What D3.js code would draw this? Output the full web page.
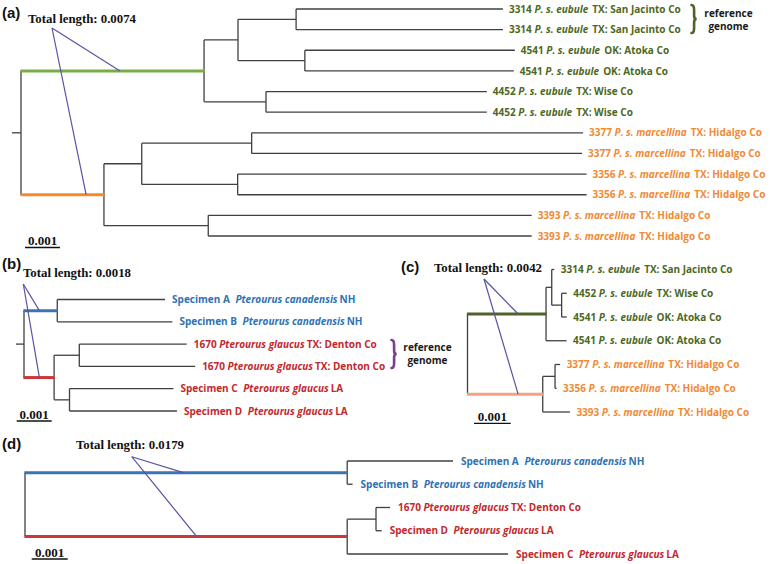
<!DOCTYPE html>
<html><head><meta charset="utf-8">
<script src="https://cdn.jsdelivr.net/npm/d3@7"></script>
<style>
body{margin:0;background:#fff}
svg{display:block}
.lbl{font-family:"Open Sans",Lato,sans-serif;font-weight:700;font-size:10px}
.serif{font-family:"Liberation Serif","DejaVu Serif",serif;font-weight:700}
.panel{font-family:"Liberation Sans",Arial,sans-serif;font-weight:700;font-size:15px}
</style>
</head><body>
<svg id="c" width="778" height="564"></svg>
<script>
// ================= DATA =================
// edges: [node, parent, branch length (subst./site)]
const edgesA = [
  ["rA", null, 0],
  ["G", "rA", 0.00523],
  ["G1", "G", 0.00097],
  ["G11", "G1", 0.00166],
  ["a1", "G11", 0.00591],
  ["a2", "G11", 0.00591],
  ["G12", "G1", 0.00191],
  ["a3", "G12", 0.00600],
  ["a4", "G12", 0.00597],
  ["G2", "G", 0.00177],
  ["a5", "G2", 0.00631],
  ["a6", "G2", 0.00631],
  ["O", "rA", 0.00237],
  ["O1", "O", 0.00108],
  ["O11", "O1", 0.00314],
  ["a7", "O11", 0.00947],
  ["a8", "O11", 0.00944],
  ["O12", "O1", 0.00274],
  ["a9", "O12", 0.00997],
  ["a10", "O12", 0.00997],
  ["O2", "O", 0.00298],
  ["a11", "O2", 0.00924],
  ["a12", "O2", 0.00924]
];
// leaves: [node, code, taxon (italic), locality, group]
const leavesA = [
  ["a1", "3314", "P. s. eubule", "TX: San Jacinto Co", "eubule"],
  ["a2", "3314", "P. s. eubule", "TX: San Jacinto Co", "eubule"],
  ["a3", "4541", "P. s. eubule", "OK: Atoka Co", "eubule"],
  ["a4", "4541", "P. s. eubule", "OK: Atoka Co", "eubule"],
  ["a5", "4452", "P. s. eubule", "TX: Wise Co", "eubule"],
  ["a6", "4452", "P. s. eubule", "TX: Wise Co", "eubule"],
  ["a7", "3377", "P. s. marcellina", "TX: Hidalgo Co", "marcellina"],
  ["a8", "3377", "P. s. marcellina", "TX: Hidalgo Co", "marcellina"],
  ["a9", "3356", "P. s. marcellina", "TX: Hidalgo Co", "marcellina"],
  ["a10", "3356", "P. s. marcellina", "TX: Hidalgo Co", "marcellina"],
  ["a11", "3393", "P. s. marcellina", "TX: Hidalgo Co", "marcellina"],
  ["a12", "3393", "P. s. marcellina", "TX: Hidalgo Co", "marcellina"]
];

const edgesB = [
  ["rB", null, 0],
  ["B", "rB", 0.00095],
  ["b1", "B", 0.00308],
  ["b2", "B", 0.00329],
  ["R", "rB", 0.00086],
  ["R1", "R", 0.00072],
  ["b3", "R1", 0.00307],
  ["b4", "R1", 0.00331],
  ["R2", "R", 0.00044],
  ["b5", "R2", 0.00297],
  ["b6", "R2", 0.00307]
];
const leavesB = [
  ["b1", "Specimen A", "Pterourus canadensis", "NH", "canadensis"],
  ["b2", "Specimen B", "Pterourus canadensis", "NH", "canadensis"],
  ["b3", "1670", "Pterourus glaucus", "TX: Denton Co", "glaucus"],
  ["b4", "1670", "Pterourus glaucus", "TX: Denton Co", "glaucus"],
  ["b5", "Specimen C", "Pterourus glaucus", "LA", "glaucus"],
  ["b6", "Specimen D", "Pterourus glaucus", "LA", "glaucus"]
];

const edgesC = [
  ["rC", null, 0],
  ["G", "rC", 0.00214],
  ["G1", "G", 0.000155],
  ["c1", "G1", 0.00007],
  ["G11", "G1", 0.00027],
  ["c2", "G11", 0.00014],
  ["c3", "G11", 0.00014],
  ["c4", "G", 0.00056],
  ["O", "rC", 0.00205],
  ["O1", "O", 0.000335],
  ["c5", "O1", 0.00014],
  ["c6", "O1", 0.00004],
  ["c7", "O", 0.00074]
];
const leavesC = [
  ["c1", "3314", "P. s. eubule", "TX: San Jacinto Co", "eubule"],
  ["c2", "4452", "P. s. eubule", "TX: Wise Co", "eubule"],
  ["c3", "4541", "P. s. eubule", "OK: Atoka Co", "eubule"],
  ["c4", "4541", "P. s. eubule", "OK: Atoka Co", "eubule"],
  ["c5", "3377", "P. s. marcellina", "TX: Hidalgo Co", "marcellina"],
  ["c6", "3356", "P. s. marcellina", "TX: Hidalgo Co", "marcellina"],
  ["c7", "3393", "P. s. marcellina", "TX: Hidalgo Co", "marcellina"]
];

const edgesD = [
  ["rD", null, 0],
  ["B", "rD", 0.00895],
  ["d1", "B", 0.00294],
  ["d2", "B", 0.00015],
  ["R", "rD", 0.00895],
  ["R1", "R", 0.00080],
  ["d3", "R1", 0.00039],
  ["d4", "R1", 0.00016],
  ["d5", "R", 0.00447]
];
const leavesD = [
  ["d1", "Specimen A", "Pterourus canadensis", "NH", "canadensis"],
  ["d2", "Specimen B", "Pterourus canadensis", "NH", "canadensis"],
  ["d3", "1670", "Pterourus glaucus", "TX: Denton Co", "glaucus"],
  ["d4", "Specimen D", "Pterourus glaucus", "LA", "glaucus"],
  ["d5", "Specimen C", "Pterourus glaucus", "LA", "glaucus"]
];

const panelLetters = ["(a)", "(b)", "(c)", "(d)"];
const totalLengths = ["Total length: 0.0074", "Total length: 0.0018", "Total length: 0.0042", "Total length: 0.0179"];
// callout target points: [clade node, distance from root along the branch]
const calloutA = [["G", 0.00283], ["O", 0.00186]];
const calloutB = [["B", 0.00044], ["R", 0.00044]];
const calloutC = [["G", 0.00138], ["O", 0.00138]];
const calloutD = [["B", 0.00440], ["R", 0.00477]];
const scaleBarValue = 0.001;
const scaleBarLabel = "0.001";
const refGenomeText = ["reference", "genome"];

// ================= STYLE =================
const textColors = {eubule: "#4d6822", marcellina: "#f08a34", canadensis: "#2e72b3", glaucus: "#c2282e"};
const grey = "#404040";
const calloutColor = "#5a52a3";

const svg = d3.select("#c");

function drawTree(edges, leaves, o) {
  const g = svg.append("g");
  const root = d3.stratify().id(d => d[0]).parentId(d => d[1])(edges);
  root.eachBefore(n => { n.dist = n.parent ? n.parent.dist + n.data[2] : 0; });
  const x = d3.scaleLinear().domain([0, 0.001]).range([o.x0, o.x0 + o.px]);
  const y = d3.scalePoint().domain(leaves.map(d => d[0])).range([o.yTop, o.yBottom]);
  root.eachAfter(n => {
    n.y = n.children ? (n.children[0].y + n.children[n.children.length - 1].y) / 2 : y(n.id);
  });
  const nodes = root.descendants();
  if (o.stub) {
    g.append("line").attr("x1", x(0) - o.stub).attr("x2", x(0))
      .attr("y1", root.y).attr("y2", root.y)
      .attr("stroke", grey).attr("stroke-width", 1.3);
  }
  g.selectAll("line.v").data(nodes.filter(n => n.children)).join("line")
    .attr("class", "v")
    .attr("x1", n => x(n.dist)).attr("x2", n => x(n.dist))
    .attr("y1", n => n.children[0].y).attr("y2", n => n.children[n.children.length - 1].y)
    .attr("stroke", grey).attr("stroke-width", 1.3);
  g.selectAll("line.h").data(nodes.filter(n => n.parent)).join("line")
    .attr("class", "h")
    .attr("x1", n => x(n.parent.dist) - (o.clade[n.id] ? 0.6 : 0)).attr("x2", n => x(n.dist) + (o.clade[n.id] ? 0.6 : 0))
    .attr("y1", n => n.y).attr("y2", n => n.y)
    .attr("stroke", n => o.clade[n.id] || grey)
    .attr("stroke-width", n => o.clade[n.id] ? 3 : 1.3);
  const info = new Map(leaves.map(d => [d[0], d]));
  const t = g.selectAll("text.lbl").data(root.leaves()).join("text")
    .attr("class", "lbl")
    .attr("x", n => x(n.dist) + o.gap)
    .attr("y", n => n.y)
    .attr("dy", "0.36em")
    .attr("fill", n => textColors[info.get(n.id)[4]]);
  t.append("tspan").text(n => info.get(n.id)[1] + " ");
  t.append("tspan").attr("dx", n => info.get(n.id)[1].length > 4 ? 3 : 0)
    .attr("font-style", "italic").text(n => info.get(n.id)[2]);
  t.append("tspan").attr("dx", n => info.get(n.id)[4] === "eubule" || info.get(n.id)[4] === "marcellina" ? 4 : 2)
    .text(n => info.get(n.id)[3]);
  const byId = new Map(nodes.map(n => [n.id, n]));
  o.callout.forEach(([id, d]) => {
    g.append("line").attr("x1", o.anchor[0]).attr("y1", o.anchor[1])
      .attr("x2", x(d)).attr("y2", byId.get(id).y)
      .attr("stroke", calloutColor).attr("stroke-width", 1.2);
  });
  g.append("text").attr("class", "serif").attr("font-size", 12.8)
    .attr("x", o.title[0]).attr("y", o.title[1]).attr("fill", "#111").text(o.total);
  g.append("text").attr("class", "panel").attr("x", o.letter[0]).attr("y", o.letter[1])
    .attr("fill", "#111").text(o.letterText);
  const sb = g.append("g");
  sb.append("line").attr("x1", o.bar[0]).attr("x2", o.bar[0] + (x(scaleBarValue) - x(0)))
    .attr("y1", o.bar[1]).attr("y2", o.bar[1]).attr("stroke", "#111").attr("stroke-width", 1.3);
  sb.append("text").attr("class", "serif").attr("font-size", 13)
    .attr("text-anchor", "middle")
    .attr("x", o.bar[0] + (x(scaleBarValue) - x(0)) / 2).attr("y", o.bar[1] - 2.2)
    .attr("fill", "#111").text(scaleBarLabel);
  return {x, byId, g};
}

function brace(g, xb, y0, y1, color) {
  const m = (y0 + y1) / 2, w = 2.6, h = y1 - y0;
  g.append("path")
    .attr("d", `M${xb},${y0} Q${xb + w},${y0} ${xb + w},${y0 + h * 0.18} L${xb + w},${m - h * 0.12} Q${xb + w},${m} ${xb + 2 * w},${m} Q${xb + w},${m} ${xb + w},${m + h * 0.12} L${xb + w},${y1 - h * 0.18} Q${xb + w},${y1} ${xb},${y1}`)
    .attr("fill", "none").attr("stroke", color).attr("stroke-width", 2.6).attr("stroke-linecap", "round");
}
function refText(g, cx, y) {
  refGenomeText.forEach((s, i) => g.append("text").attr("class", "lbl").attr("text-anchor", "middle")
    .attr("font-size", 9.6).attr("fill", "#1a1a1a")
    .attr("x", cx).attr("y", y + i * 13).text(s));
}

const A = drawTree(edgesA, leavesA, {
  x0: 21, px: 35, yTop: 9, yBottom: 236, gap: 6, stub: 9,
  clade: {G: "#78ad45", O: "#f5892e"},
  callout: calloutA, anchor: [52, 28], title: [28, 23], total: totalLengths[0],
  letter: [2, 18], letterText: panelLetters[0], bar: [25, 247.5]
});
brace(A.g, 691.5, 5, 33, "#4f6228");
refText(A.g, 728.5, 16.5);

const B = drawTree(edgesB, leavesB, {
  x0: 24, px: 35, yTop: 299.5, yBottom: 411, gap: 7, stub: 8,
  clade: {B: "#3a74b3", R: "#cc383a"},
  callout: calloutB, anchor: [23.3, 284], title: [23, 277], total: totalLengths[1],
  letter: [2, 269], letterText: panelLetters[1], bar: [16.7, 421]
});
brace(B.g, 391.5, 340, 368, "#7b3f90");
refText(B.g, 427.5, 351);

drawTree(edgesC, leavesC, {
  x0: 467.5, px: 36.7, yTop: 269.5, yBottom: 412, gap: 6.5, stub: 0,
  clade: {G: "#4f6228", O: "#f6a27f"},
  callout: calloutC, anchor: [484, 279], title: [434, 271.5], total: totalLengths[2],
  letter: [401, 272], letterText: panelLetters[2], bar: [474, 423.3]
});

drawTree(edgesD, leavesD, {
  x0: 25, px: 36, yTop: 461, yBottom: 554, gap: 8, stub: 0,
  clade: {B: "#3a74b3", R: "#cc383a"},
  callout: calloutD, anchor: [131.7, 456.7], title: [76, 449], total: totalLengths[3],
  letter: [2, 449], letterText: panelLetters[3], bar: [31.7, 559]
});
</script>
</body></html>
